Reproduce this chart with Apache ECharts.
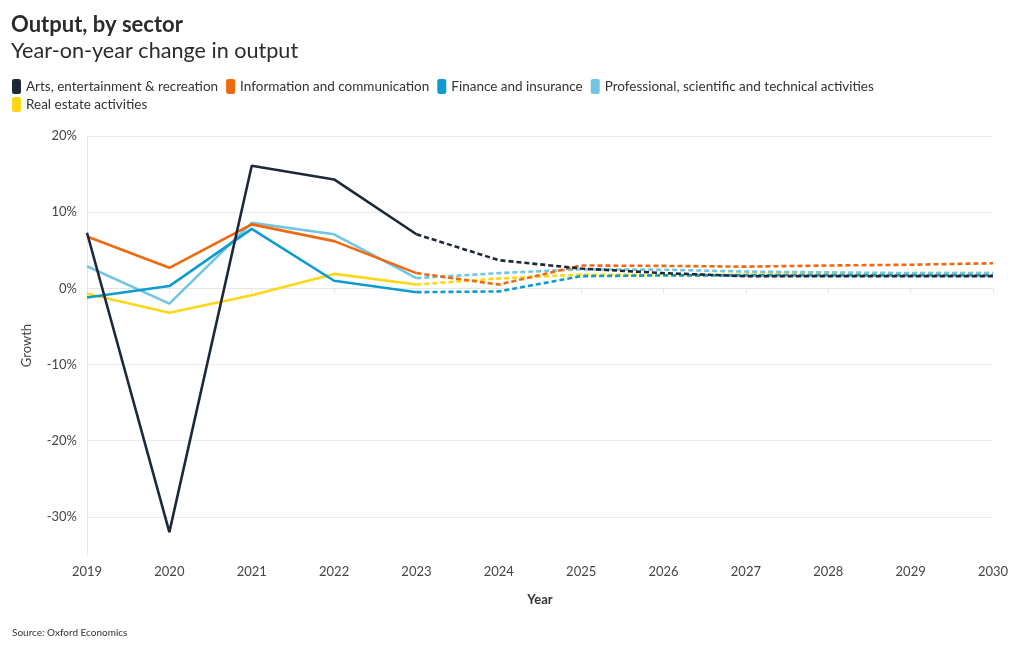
<!DOCTYPE html>
<html>
<head>
<meta charset="utf-8">
<script src="https://cdn.jsdelivr.net/npm/echarts@6/dist/echarts.min.js"></script>
<style>
html,body{margin:0;padding:0;background:#fff;}
#chart{width:1020px;height:650px;}
</style>
</head>
<body>
<div id="chart"></div>
<script>
const years = ['2019','2020','2021','2022','2023','2024','2025','2026','2027','2028','2029','2030'];
const lastActualIndex = 4; // 2023: solid up to here, dashed from here on
const sectorNames = [
  'Arts, entertainment & recreation',
  'Information and communication',
  'Finance and insurance',
  'Professional, scientific and technical activities',
  'Real estate activities'
];
const arts        = [7.3, -32.0, 16.1, 14.3, 7.1, 3.7, 2.6, 2.0, 1.6, 1.6, 1.6, 1.6];
const infoComm    = [6.8, 2.7, 8.4, 6.2, 2.0, 0.5, 3.0, 2.95, 2.85, 3.0, 3.1, 3.3];
const finance     = [-1.2, 0.3, 7.8, 1.0, -0.5, -0.4, 1.6, 1.7, 1.7, 1.7, 1.7, 1.7];
const professional= [2.9, -2.0, 8.6, 7.1, 1.35, 2.0, 2.5, 2.45, 2.2, 2.1, 2.0, 2.0];
const realEstate  = [-0.7, -3.2, -0.9, 1.9, 0.5, 1.3, 1.8, 1.75, 1.8, 1.9, 2.0, 2.0];
const yTicks = [-30, -20, -10, 0, 10, 20];

const seriesValues = [arts, infoComm, finance, professional, realEstate];
const colors = ['#1d2939', '#f0690f', '#0e9bcf', '#72c5e3', '#fbd715'];
const FONT = 'Lato, "Noto Sans", sans-serif';

const series = [];
sectorNames.forEach((name, i) => {
  const vals = seriesValues[i];
  const actual = vals.map((v, j) => j <= lastActualIndex ? v : null);
  const forecast = vals.map((v, j) => j >= lastActualIndex ? v : null);
  series.push({
    name, type: 'line', data: actual, showSymbol: false, symbol: 'none',
    lineStyle: { color: colors[i], width: 2.6 }, itemStyle: { color: colors[i] },
    z: 10 - i
  });
  series.push({
    name, type: 'line', data: forecast, showSymbol: false, symbol: 'none',
    lineStyle: { color: colors[i], width: 2.6, type: [5, 3] }, itemStyle: { color: colors[i] },
    z: 10 - i
  });
});

const legendText = { fontFamily: FONT, fontSize: 13.5, color: '#333' };
const chart = echarts.init(document.getElementById('chart'));
chart.setOption({
  animation: false,
  backgroundColor: '#fff',
  color: colors,
  textStyle: { fontFamily: FONT },
  title: [
    { text: 'Output, by sector', left: 11, top: 14, padding: 0,
      textStyle: { fontFamily: FONT, fontSize: 22, fontWeight: 'bold', color: '#2b2b2b' } },
    { text: 'Year-on-year change in output', left: 11, top: 40, padding: 0,
      textStyle: { fontFamily: FONT, fontSize: 21.6, fontWeight: 'normal', color: '#2b2b2b' } },
    { text: 'Source: Oxford Economics', left: 12, top: 628, padding: 0,
      textStyle: { fontFamily: FONT, fontSize: 10, fontWeight: 'normal', color: '#333' } }
  ],
  legend: [
    { data: sectorNames.slice(0, 4), left: 12, top: 79, padding: 0, icon: 'roundRect',
      itemWidth: 9, itemHeight: 15, itemGap: 8,
      textStyle: legendText, selectedMode: false },
    { data: sectorNames.slice(4), left: 12, top: 97, padding: 0, icon: 'roundRect',
      itemWidth: 9, itemHeight: 15, itemGap: 8,
      textStyle: legendText, selectedMode: false }
  ],
  grid: { left: 87, right: 27, top: 136, bottom: 95, containLabel: false },
  xAxis: {
    type: 'category', data: years, boundaryGap: false,
    name: 'Year', nameLocation: 'middle', nameGap: 38,
    nameTextStyle: { fontFamily: FONT, fontSize: 13, fontWeight: 'bold', color: '#333' },
    axisLine: { show: true, lineStyle: { color: '#e6e6e6' } },
    axisTick: { show: true, length: 5, lineStyle: { color: '#e6e6e6' } },
    axisLabel: { fontFamily: FONT, fontSize: 13, color: '#444', margin: 10 },
    splitLine: { show: false }
  },
  yAxis: {
    type: 'value', min: -35, max: 20,
    name: 'Growth', nameLocation: 'middle', nameGap: 54,
    nameTextStyle: { fontFamily: FONT, fontSize: 13, color: '#444' },
    axisLine: { show: true, lineStyle: { color: '#e6e6e6' } },
    axisTick: { show: false, customValues: yTicks },
    axisLabel: {
      fontFamily: FONT, fontSize: 13, color: '#444', margin: 10,
      customValues: yTicks,
      formatter: v => v + '%'
    },
    splitLine: { show: true, lineStyle: { color: '#ebebeb' } }
  },
  series
});
</script>
</body>
</html>
